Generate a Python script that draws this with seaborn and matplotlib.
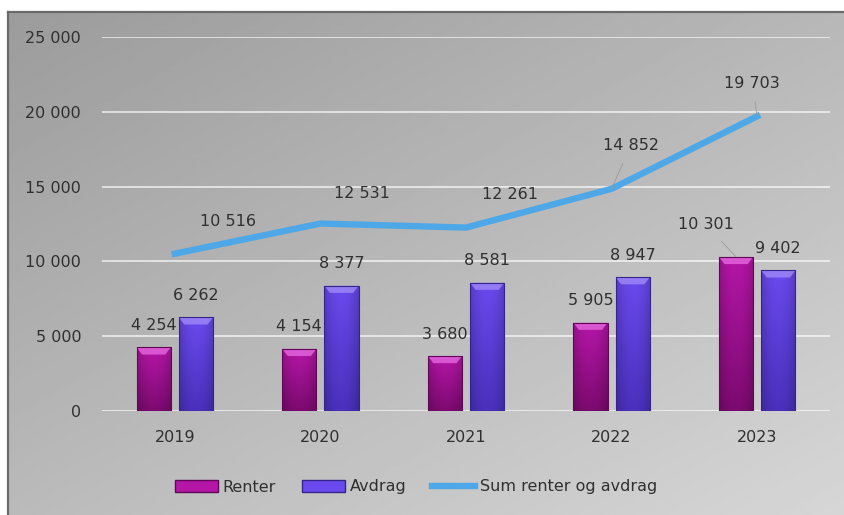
import numpy as np
import pandas as pd
import seaborn as sns
import matplotlib.pyplot as plt
from matplotlib.lines import Line2D
from matplotlib.patches import Patch, Polygon
from matplotlib.ticker import FuncFormatter

# data
years = ['2019', '2020', '2021', '2022', '2023']
renter = [4254, 4154, 3680, 5905, 10301]
avdrag = [6262, 8377, 8581, 8947, 9402]
total = [10516, 12531, 12261, 14852, 19703]

df = pd.DataFrame({
    'år': years * 2,
    'beløp': renter + avdrag,
    'serie': ['Renter'] * len(years) + ['Avdrag'] * len(years),
})

def fmt(v):
    return f"{v:,.0f}".replace(',', ' ')

# colours (top, bottom, cap, edge) per series
bar_style = {
    'Renter': ('#b616a8', '#7c0a70', '#e262dc', '#5e0856'),
    'Avdrag': ('#6a4aee', '#4a30bc', '#9c86f6', '#33258a'),
}
line_color = '#4ea8e8'
text_color = '#303030'
fs = 11.5

plt.rcParams['font.family'] = ['DejaVu Sans']
plt.rcParams['font.size'] = fs

W, H = 845, 515
fig = plt.figure(figsize=(W / 100, H / 100), dpi=100)
fig.patch.set_facecolor('white')

# grey gradient chart background
bg = fig.add_axes([8 / W, 0, 1 - 8 / W, 1 - 12 / H], zorder=0)
gx, gy = np.meshgrid(np.linspace(0, 1, 300), np.linspace(0, 1, 300))
shade = 0.61 + 0.11 * gx + 0.12 * gy
bg.imshow(shade, cmap='gray', vmin=0, vmax=1, aspect='auto',
          extent=[0, 1, 0, 1], origin='upper', interpolation='bilinear')
bg.set_axis_off()
fig.add_artist(Line2D([8 / W, 8 / W], [0, 1 - 12 / H], color='#6a6a6a', lw=1.6))
fig.add_artist(Line2D([8 / W, 1], [1 - 12 / H, 1 - 12 / H], color='#6a6a6a', lw=1.6))

ax = fig.add_axes([102 / W, 1 - 411 / H, (830 - 102) / W, (411 - 37) / H], zorder=1)
ax.set_facecolor('none')

sns.barplot(data=df, x='år', y='beløp', hue='serie', hue_order=['Renter', 'Avdrag'],
            palette={k: v[0] for k, v in bar_style.items()}, width=0.58, gap=0.19,
            legend=False, ax=ax, zorder=2)

# gradient fill + bevel cap on each bar
cap_h = 480
for cont, name in zip(ax.containers, ['Renter', 'Avdrag']):
    top_c, bot_c, cap_c, edge_c = bar_style[name]
    t = np.array(plt.matplotlib.colors.to_rgb(top_c))
    b = np.array(plt.matplotlib.colors.to_rgb(bot_c))
    for p in cont.patches:
        x, w, h = p.get_x(), p.get_width(), p.get_height()
        v = np.linspace(0, 1, 100)[:, None, None]
        u = np.linspace(-1, 1, 40)[None, :, None]
        img = (t * (1 - v) + b * v) * (1 - 0.18 * u ** 2)
        im = ax.imshow(np.clip(img, 0, 1), extent=[x, x + w, 0, h], aspect='auto',
                       origin='upper', zorder=2, interpolation='bilinear')
        im.set_clip_path(p)
        p.set_facecolor('none')
        p.set_edgecolor(edge_c)
        p.set_linewidth(0.8)
        p.set_zorder(2.2)
        ins = w * 0.16
        ax.add_patch(Polygon([(x, h), (x + w, h), (x + w - ins, h - cap_h), (x + ins, h - cap_h)],
                             closed=True, facecolor=cap_c, edgecolor='none', alpha=0.85, zorder=2.1))

# sum line
sns.lineplot(x=np.arange(len(years)), y=total, ax=ax, color=line_color, lw=4.6,
             sort=False, zorder=3)

ax.set_xlim(-0.5, len(years) - 0.5)
ax.set_ylim(0, 25000)
ax.set_yticks(range(0, 25001, 5000))
ax.yaxis.set_major_formatter(FuncFormatter(lambda v, _: fmt(v)))
ax.set_xlabel('')
ax.set_ylabel('')
ax.tick_params(axis='both', length=0, colors=text_color, labelsize=fs)
ax.tick_params(axis='x', pad=14)
ax.tick_params(axis='y', pad=15)
ax.yaxis.grid(True, color='white', lw=1.2, alpha=0.75, zorder=0)
ax.set_axisbelow(True)
for s in ax.spines.values():
    s.set_visible(False)

# bar labels
bar_offsets = {('Renter', 4): (-21.6, 23)}
leader = dict(arrowstyle='-', color='#9a9a9a', lw=0.6, shrinkA=6, shrinkB=0)
for cont, name in zip(ax.containers, ['Renter', 'Avdrag']):
    for i, p in enumerate(cont.patches):
        xc = p.get_x() + p.get_width() / 2
        h = p.get_height()
        off = bar_offsets.get((name, i), (0, 15.8))
        ax.annotate(fmt(h), xy=(xc, h), xytext=off, textcoords='offset points',
                    ha='center', va='center', color=text_color, fontsize=fs,
                    arrowprops=leader if (name, i) in bar_offsets else None, zorder=4)

# line labels
line_offsets = [(38, 23), (30, 21.6), (31.7, 23.8), (13.7, 31), (-3.6, 23.8)]
for i, (val, off) in enumerate(zip(total, line_offsets)):
    ax.annotate(fmt(val), xy=(i, val), xytext=off, textcoords='offset points',
                ha='center', va='center', color=text_color, fontsize=fs,
                arrowprops=leader if i >= 3 else None, zorder=4)

handles = [
    Patch(facecolor=bar_style['Renter'][0], edgecolor=bar_style['Renter'][3], label='Renter'),
    Patch(facecolor=bar_style['Avdrag'][0], edgecolor=bar_style['Avdrag'][3], label='Avdrag'),
    Line2D([0], [0], color=line_color, lw=4.6, label='Sum renter og avdrag'),
]
fig.legend(handles=handles, loc='center', bbox_to_anchor=(416 / W, 1 - 487 / H), ncol=3,
           frameon=False, handlelength=2.7, handleheight=0.8, handletextpad=0.3,
           columnspacing=1.6, fontsize=fs, labelcolor=text_color)

fig.savefig('out.png', dpi=100)
